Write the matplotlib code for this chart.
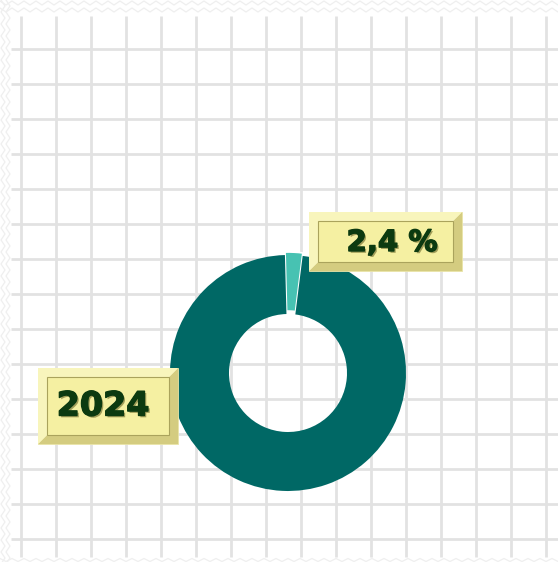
import numpy as np
import matplotlib
matplotlib.use("Agg")
import matplotlib.pyplot as plt
from matplotlib.patches import Rectangle, Polygon
import matplotlib.patheffects as pe

# ---- data ----
slice_labels = ["2,4 %", ""]
slice_values = [2.4, 97.6]
slice_colors = ["#47c2b2", "#006865"]
year_label = "2024"

W, H = 558, 562
DPI = 100
fig = plt.figure(figsize=(W / DPI, H / DPI), dpi=DPI)
fig.patch.set_facecolor("white")

# ---- background axes in pixel coordinates ----
bg = fig.add_axes([0, 0, 1, 1], zorder=0)
bg.set_xlim(0, W)
bg.set_ylim(H, 0)
bg.axis("off")

# faint zig-zag pattern frame
zz_col = "#efefef"
xs = np.arange(0, W + 12, 6)
for y0 in (3, 10):
    ys = y0 + np.where((np.arange(len(xs)) % 2) == 0, -2, 2)
    bg.plot(xs, ys, color=zz_col, lw=0.9)
ys = np.arange(0, H + 12, 6)
for x0 in (3, 8):
    xz = x0 + np.where((np.arange(len(ys)) % 2) == 0, -2, 2)
    bg.plot(xz, ys, color=zz_col, lw=0.9)
bg.plot(xs, 560 + np.where((np.arange(len(xs)) % 2) == 0, -1.5, 1.5), color=zz_col, lw=0.9)

# white grid area
gx0, gy0, gx1, gy1 = 11, 16, 558, 557
bg.add_patch(Rectangle((gx0, gy0), gx1 - gx0, gy1 - gy0, facecolor="white", edgecolor="none"))
grid_col = "#e2e2e2"
for x in np.arange(21, gx1, 35):
    bg.vlines(x, gy0, gy1, color=grid_col, lw=2.0)
for y in np.arange(49, gy1, 35):
    bg.hlines(y, gx0, gx1, color=grid_col, lw=2.0)

# ---- donut ----
cx, cy, R = 288, 373, 118
size = 2.5 * R
pax = fig.add_axes([(cx - size / 2) / W, (H - cy - size / 2) / H, size / W, size / H], zorder=1)
wedges, _ = pax.pie(
    slice_values,
    colors=slice_colors,
    startangle=91.5,
    counterclock=False,
    explode=[0.025, 0],
    radius=1.0,
    wedgeprops=dict(width=0.5, edgecolor="none"),
)
wedges[0].set_edgecolor("white")
wedges[0].set_linewidth(1.2)
pax.set_xlim(-1.25, 1.25)
pax.set_ylim(-1.25, 1.25)
pax.set_aspect("equal")
pax.axis("off")
pax.patch.set_alpha(0)

# ---- overlay labels ----
ov = fig.add_axes([0, 0, 1, 1], zorder=2)
ov.set_xlim(0, W)
ov.set_ylim(H, 0)
ov.axis("off")
ov.patch.set_alpha(0)


def bevel_box(ax, x0, y0, x1, y1, b):
    face = "#f5f0a2"
    light = "#fbf9cf"
    dark = "#d4cc80"
    ax.add_patch(Rectangle((x0, y0), x1 - x0, y1 - y0, facecolor=light, edgecolor="#e6e0a0", lw=0.6))
    ax.add_patch(Polygon([(x1, y0), (x1, y1), (x0, y1), (x0 + b, y1 - b), (x1 - b, y1 - b), (x1 - b, y0 + b)],
                         closed=True, facecolor=dark, edgecolor="none"))
    ax.add_patch(Polygon([(x0, y0), (x1, y0), (x1 - b, y0 + b), (x0 + b, y0 + b), (x0 + b, y1 - b), (x0, y1)],
                         closed=True, facecolor="#f8f5bc", edgecolor="none"))
    ax.add_patch(Rectangle((x0 + b, y0 + b), x1 - x0 - 2 * b, y1 - y0 - 2 * b,
                           facecolor=face, edgecolor="#aaa35c", lw=0.8))


txt_col = "#0c3a10"
txt_fx = [pe.withSimplePatchShadow(offset=(1.3, -1.3), shadow_rgbFace="#7d7a3a", alpha=0.7),
          pe.Stroke(linewidth=1.0, foreground=txt_col), pe.Normal()]

bevel_box(ov, 309, 212, 462, 271, 9)
ov.text(392, 243, slice_labels[0], ha="center", va="center", fontsize=21,
        fontweight="heavy", color=txt_col, family="DejaVu Sans", path_effects=txt_fx)

bevel_box(ov, 38, 368, 178, 444, 9)
ov.text(103, 406, year_label, ha="center", va="center", fontsize=24,
        fontweight="heavy", color=txt_col, family="DejaVu Sans", path_effects=txt_fx)

fig.savefig("out.png", dpi=DPI, facecolor="white")
